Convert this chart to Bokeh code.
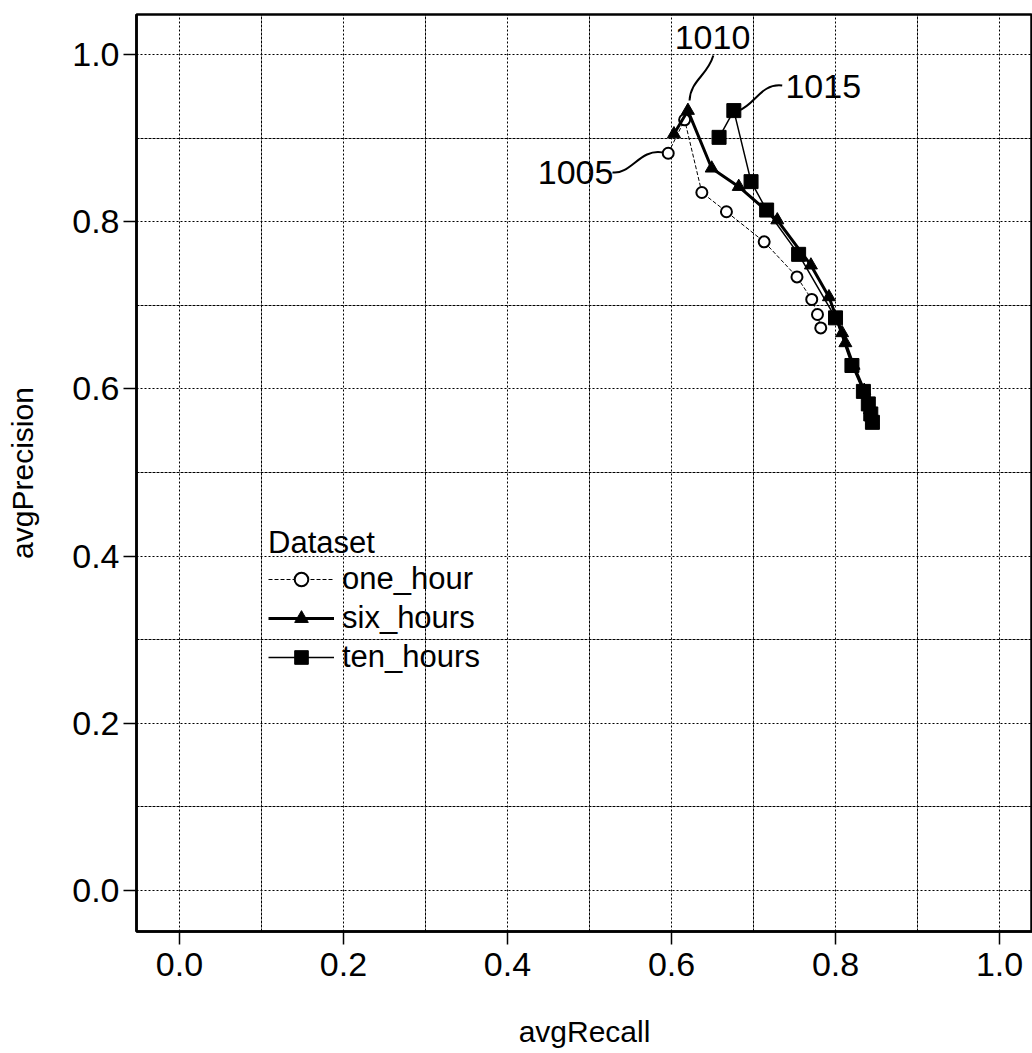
from bokeh.plotting import figure
from bokeh.models import Range1d, Legend, LegendItem, FixedTicker, PrintfTickFormatter
from bokeh.core.properties import value
from bokeh.embed import file_html
from bokeh.resources import INLINE

FONT = "Liberation Sans"

# one_hour
one_recall = [0.596, 0.616, 0.637, 0.667, 0.713, 0.753, 0.771, 0.778, 0.782]
one_prec = [0.882, 0.922, 0.835, 0.812, 0.776, 0.734, 0.707, 0.689, 0.673]
# six_hours
six_recall = [0.603, 0.620, 0.649, 0.682, 0.729, 0.770, 0.792, 0.808, 0.812, 0.822, 0.835, 0.842, 0.845]
six_prec = [0.905, 0.933, 0.864, 0.842, 0.802, 0.748, 0.710, 0.667, 0.655, 0.628, 0.598, 0.575, 0.562]
# ten_hours
ten_recall = [0.658, 0.676, 0.697, 0.716, 0.755, 0.800, 0.820, 0.834, 0.840, 0.843, 0.845]
ten_prec = [0.901, 0.933, 0.848, 0.814, 0.761, 0.685, 0.628, 0.597, 0.582, 0.570, 0.560]

ticks = [0.0, 0.2, 0.4, 0.6, 0.8, 1.0]
minor = [0.1, 0.3, 0.5, 0.7, 0.9]

# callout labels
label_text = ["1005", "1010", "1015"]
label_x = [0.483, 0.650, 0.785]
label_y = [0.859, 1.020, 0.962]
lead_x0 = [0.528, 0.651, 0.735]
lead_y0 = [0.859, 0.999, 0.963]
lead_x1 = [0.589, 0.622, 0.682]
lead_y1 = [0.883, 0.945, 0.933]
lead_cx0 = [0.550, 0.644, 0.709]
lead_cy0 = [0.856, 0.975, 0.966]
lead_cx1 = [0.562, 0.623, 0.702]
lead_cy1 = [0.888, 0.969, 0.940]

p = figure(width=1032, height=1050, output_backend="svg", toolbar_location=None,
           x_range=Range1d(-0.0524, 1.0402), y_range=Range1d(-0.0493, 1.048),
           min_border_left=136, min_border_top=14, min_border_bottom=117, min_border_right=0)

p.outline_line_color = "black"
p.outline_line_width = 2.5

for ax in (p.xaxis[0], p.yaxis[0]):
    ax.ticker = FixedTicker(ticks=ticks, minor_ticks=minor)
    ax.formatter = PrintfTickFormatter(format="%.1f")
    ax.major_tick_in = 0
    ax.major_tick_out = 13
    ax.minor_tick_in = 0
    ax.minor_tick_out = 0
    ax.major_tick_line_width = 1.5
    ax.axis_line_width = 2.5
    ax.major_label_text_font = FONT
    ax.major_label_text_font_size = "34px"
    ax.major_label_text_color = "black"
    ax.axis_label_text_font = FONT
    ax.axis_label_text_font_size = "30px"
    ax.axis_label_text_font_style = "normal"
    ax.axis_label_text_color = "black"

p.xaxis.axis_label = "avgRecall"
p.yaxis.axis_label = "avgPrecision"
p.xaxis.major_label_standoff = 8
p.yaxis.major_label_standoff = 4
p.xaxis.axis_label_standoff = 36
p.yaxis.axis_label_standoff = 30

for g in (p.xgrid[0], p.ygrid[0]):
    g.grid_line_color = "black"
    g.grid_line_dash = "2 2"
    g.grid_line_width = 1
    g.minor_grid_line_color = "black"
    g.minor_grid_line_dash = "3 1"
    g.minor_grid_line_width = 1

# series
r1l = p.line(one_recall, one_prec, line_color="black", line_width=1, line_dash="4 2")
r1m = p.scatter(one_recall, one_prec, marker="circle", size=11, fill_color="white",
                line_color="black", line_width=2)
r2l = p.line(six_recall, six_prec, line_color="black", line_width=3)
r2m = p.scatter(six_recall, six_prec, marker="triangle", size=13, fill_color="black",
                line_color="black")
r3l = p.line(ten_recall, ten_prec, line_color="black", line_width=1.5)
r3m = p.scatter(ten_recall, ten_prec, marker="square", size=14, fill_color="black",
                line_color="black")

# callouts
p.bezier(x0=lead_x0, y0=lead_y0, x1=lead_x1, y1=lead_y1,
         cx0=lead_cx0, cy0=lead_cy0, cx1=lead_cx1, cy1=lead_cy1,
         line_color="black", line_width=2)
p.text(x=label_x, y=label_y, text=label_text, text_font=value(FONT),
       text_font_size="34px", text_align="center", text_baseline="middle",
       text_color="black")

legend = Legend(items=[
    LegendItem(label="one_hour", renderers=[r1l, r1m]),
    LegendItem(label="six_hours", renderers=[r2l, r2m]),
    LegendItem(label="ten_hours", renderers=[r3l, r3m]),
], location=(132, 256), title="Dataset")
legend.title_text_font = FONT
legend.title_text_font_size = "31px"
legend.title_text_font_style = "normal"
legend.title_text_color = "black"
legend.label_text_font = FONT
legend.label_text_font_size = "31px"
legend.label_text_color = "black"
legend.glyph_width = 66
legend.glyph_height = 34
legend.label_height = 34
legend.label_standoff = 8
legend.spacing = 3
legend.padding = 0
legend.margin = 0
legend.background_fill_alpha = 0
legend.border_line_alpha = 0
legend.title_standoff = 0
p.add_layout(legend, "center")

open("out.html", "w").write(file_html(p, INLINE))
